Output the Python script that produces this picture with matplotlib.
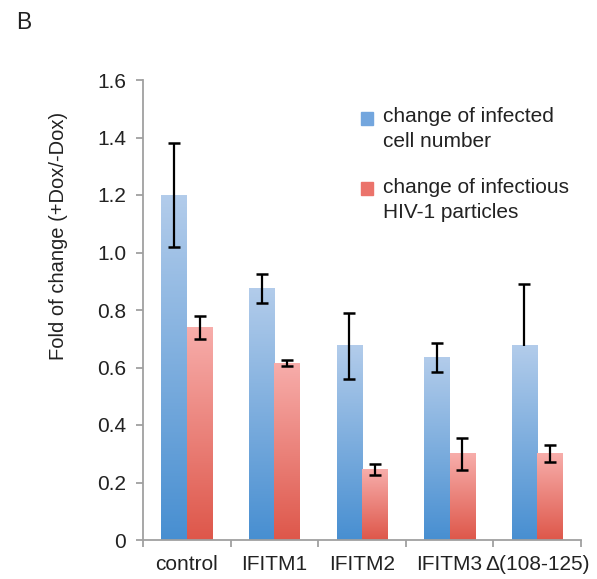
import numpy as np
import matplotlib.pyplot as plt
from matplotlib.colors import LinearSegmentedColormap

plt.rcParams['font.family'] = ['Liberation Sans', 'DejaVu Sans']

categories = ['control', 'IFITM1', 'IFITM2', 'IFITM3', 'Δ(108-125)']
cell_vals = [1.20, 0.875, 0.675, 0.635, 0.675]
cell_err_lo = [0.18, 0.05, 0.115, 0.05, 0.0]
cell_err_hi = [0.18, 0.05, 0.115, 0.05, 0.215]
virus_vals = [0.74, 0.615, 0.245, 0.30, 0.30]
virus_err_lo = [0.04, 0.01, 0.02, 0.055, 0.03]
virus_err_hi = [0.04, 0.01, 0.02, 0.055, 0.03]
yticks = [0, 0.2, 0.4, 0.6, 0.8, 1.0, 1.2, 1.4, 1.6]
ytick_labels = ['0', '0.2', '0.4', '0.6', '0.8', '1.0', '1.2', '1.4', '1.6']
legend_labels = [['change of infected', 'cell number'],
                 ['change of infectious', 'HIV-1 particles']]

blue_top, blue_bot = (0.70, 0.80, 0.92), (0.28, 0.56, 0.82)
red_top, red_bot = (0.97, 0.68, 0.67), (0.87, 0.34, 0.29)

fig = plt.figure(figsize=(5.97, 5.79), dpi=100)
ax = fig.add_axes([143/597, 1-540/579, (581-143)/597, (540-80)/579])

x = np.arange(len(categories))
w = 0.29
grad = np.linspace(1, 0, 256).reshape(-1, 1)

def grad_bars(xs, vals, ctop, cbot):
    cmap = LinearSegmentedColormap.from_list('g', [cbot, ctop])
    bars = ax.bar(xs, vals, w, color='none', edgecolor='none')
    for b in bars:
        x0, y0 = b.get_x(), b.get_y()
        ax.imshow(grad, cmap=cmap, aspect='auto', vmin=0, vmax=1,
                  extent=[x0, x0 + b.get_width(), y0, y0 + b.get_height()],
                  zorder=2, interpolation='bilinear')
    return bars

grad_bars(x - w/2, cell_vals, blue_top, blue_bot)
grad_bars(x + w/2, virus_vals, red_top, red_bot)

def errs(xs, vals, lo, hi):
    ax.errorbar(xs, vals, yerr=[lo, hi], fmt='none', ecolor='black',
                elinewidth=1.6, capsize=0, zorder=4)
    for xi, v, l, h in zip(xs, vals, lo, hi):
        if l > 0:
            ax.plot(xi, v - l, marker='_', color='black', ms=8.5, mew=1.8, zorder=4)
        if h > 0:
            ax.plot(xi, v + h, marker='_', color='black', ms=8.5, mew=1.8, zorder=4)

errs(x - w/2, cell_vals, cell_err_lo, cell_err_hi)
errs(x + w/2, virus_vals, virus_err_lo, virus_err_hi)

ax.set_xlim(-0.5, len(categories) - 0.5)
ax.set_ylim(0, 1.6)
ax.set_yticks(yticks)
ax.set_yticklabels(ytick_labels)
ax.set_xticks(x)
ax.set_xticklabels(categories)
ax.set_xticks(np.arange(len(categories) + 1) - 0.5, minor=True)
ax.tick_params(axis='x', which='major', length=0, labelsize=15, pad=11, colors='#222222')
ax.tick_params(axis='x', which='minor', length=5, width=1.3, color='#a0a0a0', direction='out')
ax.tick_params(axis='y', length=5, width=1.3, color='#a0a0a0', labelsize=15, pad=7, labelcolor='#222222')
for s in ['top', 'right']:
    ax.spines[s].set_visible(False)
for s in ['left', 'bottom']:
    ax.spines[s].set_color('#a0a0a0')
    ax.spines[s].set_linewidth(1.3)

fig.text(59/597, 1-236/579, 'Fold of change (+Dox/-Dox)', fontsize=14.5, rotation=90,
         ha='center', va='center', color='#222222')

# legend
sq_tops = [112, 182]
baselines = [[122, 147], [193, 218]]
for lines, c, top, bls in zip(legend_labels, [(0.45, 0.65, 0.87), (0.92, 0.45, 0.42)],
                              sq_tops, baselines):
    fig.patches.append(plt.Rectangle((361/597, 1-(top+13)/579), 12/597, 13/579,
                                     transform=fig.transFigure, color=c, zorder=5))
    for line, bl in zip(lines, bls):
        fig.text(383/597, 1-bl/579, line, fontsize=15, va='baseline', ha='left',
                 color='#222222')

fig.text(16/597, 1-29/579, 'B', fontsize=16.5, color='#222222')

fig.savefig('out.png', dpi=100)
